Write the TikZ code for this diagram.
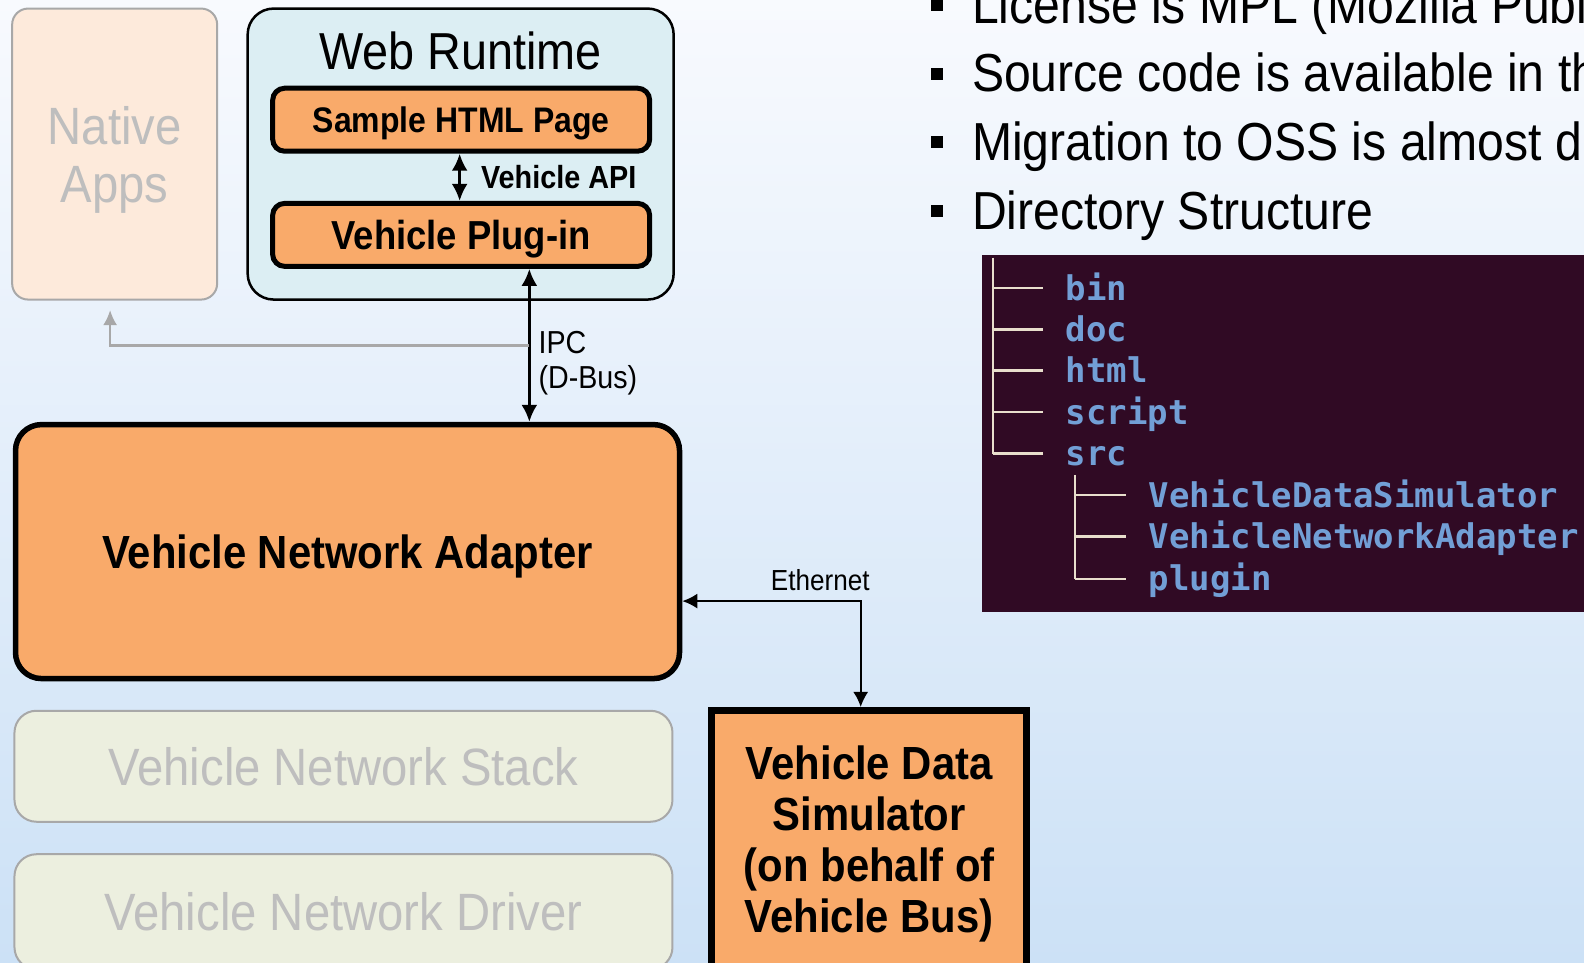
\documentclass[tikz,border=0pt]{standalone}
\usepackage{fontspec}
\setmainfont{Liberation Sans}[FakeStretch=0.9]
\newfontfamily\termfont{DejaVu Sans Mono}
\usetikzlibrary{arrows.meta}

\definecolor{bgtop}{RGB}{248,250,254}
\definecolor{bgbot}{RGB}{204,225,246}
\definecolor{coreorange}{RGB}{249,170,106}
\definecolor{nativefill}{RGB}{253,234,219}
\definecolor{webfill}{RGB}{220,238,243}
\definecolor{stackfill}{RGB}{236,239,223}
\definecolor{fadeline}{RGB}{168,168,168}
\definecolor{fadetext}{RGB}{190,190,190}
\definecolor{termbg}{RGB}{48,10,36}
\definecolor{termblue}{RGB}{114,159,214}
\definecolor{termline}{RGB}{232,222,204}

\tikzset{
  fadedbox/.style={draw=fadeline, line width=2pt, text=fadetext, align=center, text depth=0pt,
    font=\fontsize{52.5}{58}\selectfont},
  corebox/.style={draw=black, fill=coreorange, align=center, text depth=0pt, font=\bfseries},
  link/.style={line width=2.8pt, {Latex[length=17pt,width=16pt]}-{Latex[length=17pt,width=16pt]}},
  thinlink/.style={line width=2pt, {Latex[length=15pt,width=15pt]}-{Latex[length=15pt,width=15pt]}},
  greylink/.style={draw=fadeline, line width=2.2pt, -{Latex[length=15pt,width=14pt]}},
  bullettext/.style={anchor=base west, inner sep=0pt, font=\fontsize{53.5}{60}\selectfont},
  bulletsq/.style={fill=black, minimum size=12pt, inner sep=0pt},
  termtext/.style={anchor=base west, inner sep=0pt, text=termblue, font=\termfont\bfseries\fontsize{34}{40}\selectfont},
  treeline/.style={draw=termline, line width=2.6pt},
}

\begin{document}
\begin{tikzpicture}[x=1.0102pt, y=-1.0102pt]
\useasboundingbox (0,0) rectangle (1568,953);
\clip (0,0) rectangle (1568,953);
\shade[top color=bgtop, bottom color=bgbot] (0,0) rectangle (1568,953);

% --- left column: software stack ---
\node[fadedbox, fill=nativefill, rounded corners=16pt, minimum width=205pt, minimum height=291pt]
  (native) at (113.5,152.5) {Native\\Apps};

\node[draw=black, fill=webfill, line width=2.5pt, rounded corners=26pt,
      minimum width=426pt, minimum height=291pt] (web) at (456,152.5) {};
\node[inner sep=0pt, anchor=base, font=\fontsize{52}{58}\selectfont] (webtitle) at (456,69) {Web Runtime};

\node[corebox, line width=5pt, rounded corners=12pt, minimum width=377pt, minimum height=63pt,
      font=\bfseries\fontsize{35.5}{40}\selectfont] (html) at (456.5,118.5) {Sample HTML Page};
\node[corebox, line width=5pt, rounded corners=12pt, minimum width=377pt, minimum height=63pt,
      font=\bfseries\fontsize{40.5}{46}\selectfont] (plugin) at (456.5,232.5) {Vehicle Plug-in};

\coordinate (apix) at (455,175);
\draw[link] (html.south -| apix) -- (plugin.north -| apix);
\node[anchor=west, inner sep=0pt, font=\bfseries\fontsize{32}{36}\selectfont] (apilabel) at (476,175) {Vehicle API};

\node[corebox, line width=5.5pt, rounded corners=26pt, minimum width=664pt, minimum height=254pt,
      font=\bfseries\fontsize{46.5}{52}\selectfont] (vna) at (344,546) {Vehicle Network Adapter};

\coordinate (ipc) at (524,342);
\draw[link] (plugin.south -| ipc) -- (vna.north -| ipc);
\node[anchor=west, inner sep=0pt, align=left, font=\fontsize{31.8}{35}\selectfont] (ipclabel) at (533,360) {IPC\\(D-Bus)};

\coordinate (nat) at (109,307);
\draw[greylink] (ipc) -| (nat);

\node[fadedbox, fill=stackfill, rounded corners=22pt, minimum width=658pt, minimum height=111pt]
  (stack) at (340,758.5) {Vehicle Network Stack};
\node[fadedbox, fill=stackfill, rounded corners=22pt, minimum width=658pt, minimum height=115pt]
  (driver) at (340,902.5) {Vehicle Network Driver};

% --- simulator on the vehicle bus side ---
\node[corebox, line width=7pt, minimum width=315pt, minimum height=258pt,
      font=\bfseries\fontsize{46.5}{51}\selectfont] (sim) at (860.5,831)
  {Vehicle Data\\Simulator\\(on behalf of\\Vehicle Bus)};

\coordinate (eth) at (852,595);
\draw[thinlink] (vna.east |- eth) -- (eth) -- (sim.north -| eth);
\node[inner sep=0pt, font=\fontsize{29}{32}\selectfont] (ethlabel) at (812,574) {Ethernet};

% --- bullet list ---
\node[bulletsq] (b1) at (928,5) {};
\node[bullettext] (l1) at (962,23) {License is MPL (Mozilla Publi};
\node[bulletsq] (b2) at (928,73) {};
\node[bullettext] (l2) at (962,91) {Source code is available in th};
\node[bulletsq] (b3) at (928,141) {};
\node[bullettext] (l3) at (962,159) {Migration to OSS is almost do};
\node[bulletsq] (b4) at (928,209) {};
\node[bullettext] (l4) at (962,227) {Directory Structure};

% --- directory tree screenshot ---
\fill[termbg] (972,252) rectangle (1600,606);
\draw[treeline] (983,255) -- (983,449);
\foreach \yy in {285,326,367,408,449} \draw[treeline] (983,\yy) -- (1032,\yy);
\draw[treeline] (1064,470) -- (1064,573);
\foreach \yy in {490,531,573} \draw[treeline] (1064,\yy) -- (1115,\yy);
\node[termtext] (t1) at (1055,297) {bin};
\node[termtext] (t2) at (1055,338) {doc};
\node[termtext] (t3) at (1055,379) {html};
\node[termtext] (t4) at (1055,420) {script};
\node[termtext] (t5) at (1055,461) {src};
\node[termtext] (t6) at (1137,502) {VehicleDataSimulator};
\node[termtext] (t7) at (1137,543) {VehicleNetworkAdapter};
\node[termtext] (t8) at (1137,585) {plugin};
\end{tikzpicture}
\end{document}
